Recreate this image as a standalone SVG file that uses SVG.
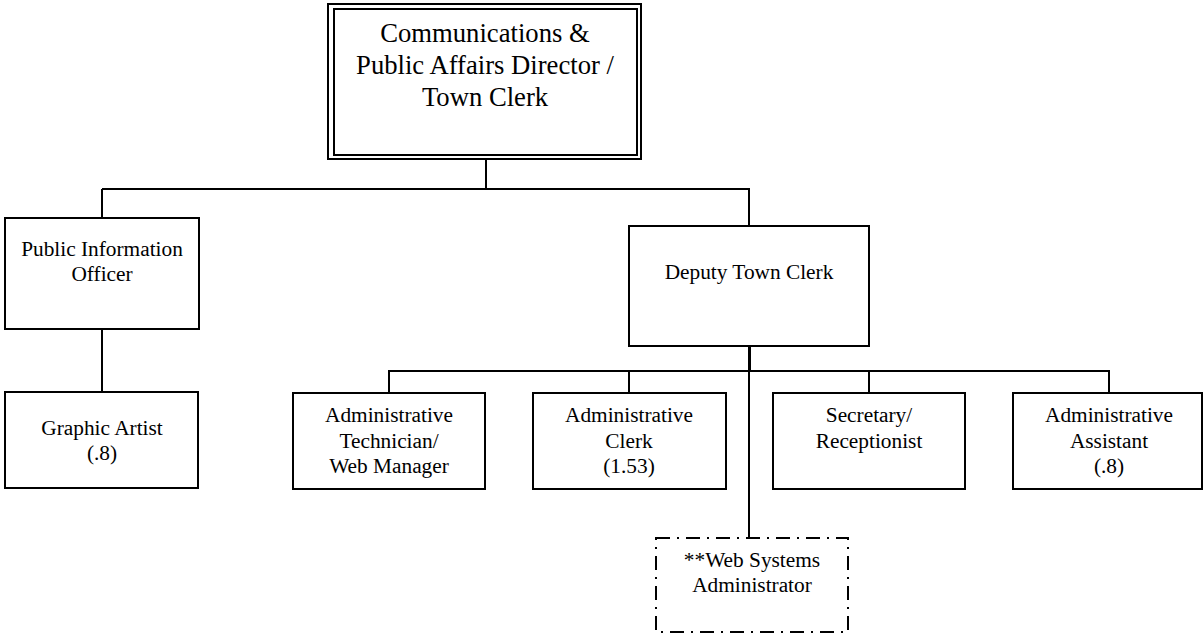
<svg xmlns="http://www.w3.org/2000/svg" width="1204" height="634" viewBox="0 0 1204 634" font-family="'Liberation Serif', 'Times New Roman', 'DejaVu Serif', serif">
<style>
.box{fill:#fff;stroke:#000;stroke-width:2}
.dash{fill:#fff;stroke:#000;stroke-width:2;stroke-dasharray:14 7 2 7}
.ln{fill:none;stroke:#000;stroke-width:2}
.t{font-family:'Liberation Serif','Times New Roman','DejaVu Serif',serif;font-size:21.33px;fill:#000;text-anchor:middle}
.big{font-size:26.67px}
</style>
<rect width="1204" height="634" fill="#fff"/>
<g id="connectors">
<path class="ln" d="M486 159V189M102 189H749V226M102 189V218M102 329V392"/>
<path class="ln" d="M749 346V538"/>
<path class="ln" d="M750 346V372"/>
<path class="ln" d="M389 393V371H1109V393M629 371V393M869 371V393"/>
</g>
<g id="director">
<rect class="box" x="328" y="4" width="313" height="155"/>
<rect class="box" x="334" y="9" width="303" height="146"/>
<text class="t big" x="485" y="42">Communications &amp;</text>
<text class="t big" x="485" y="74">Public Affairs Director /</text>
<text class="t big" x="485" y="106">Town Clerk</text>
</g>
<g id="pio">
<rect class="box" x="5" y="218" width="194" height="111"/>
<text class="t" x="102" y="256">Public Information</text>
<text class="t" x="102" y="281">Officer</text>
</g>
<g id="graphic">
<rect class="box" x="5" y="392" width="193" height="96"/>
<text class="t" x="102" y="435">Graphic Artist</text>
<text class="t" x="102" y="460">(.8)</text>
</g>
<g id="deputy">
<rect class="box" x="629" y="226" width="240" height="120"/>
<text class="t" x="749" y="279">Deputy Town Clerk</text>
</g>
<g id="admtech">
<rect class="box" x="293" y="393" width="192" height="96"/>
<text class="t" x="389" y="422">Administrative</text>
<text class="t" x="389" y="448">Technician/</text>
<text class="t" x="389" y="473">Web Manager</text>
</g>
<g id="admclerk">
<rect class="box" x="533" y="393" width="193" height="96"/>
<text class="t" x="629" y="422">Administrative</text>
<text class="t" x="629" y="448">Clerk</text>
<text class="t" x="629" y="473">(1.53)</text>
</g>
<g id="secretary">
<rect class="box" x="773" y="393" width="192" height="96"/>
<text class="t" x="869" y="422">Secretary/</text>
<text class="t" x="869" y="448">Receptionist</text>
</g>
<g id="admassist">
<rect class="box" x="1013" y="393" width="189" height="96"/>
<text class="t" x="1109" y="422">Administrative</text>
<text class="t" x="1109" y="448">Assistant</text>
<text class="t" x="1109" y="473">(.8)</text>
</g>
<g id="websys">
<rect class="dash" x="656" y="538" width="192" height="94"/>
<text class="t" x="752" y="567">**Web Systems</text>
<text class="t" x="752" y="592">Administrator</text>
</g>
</svg>
